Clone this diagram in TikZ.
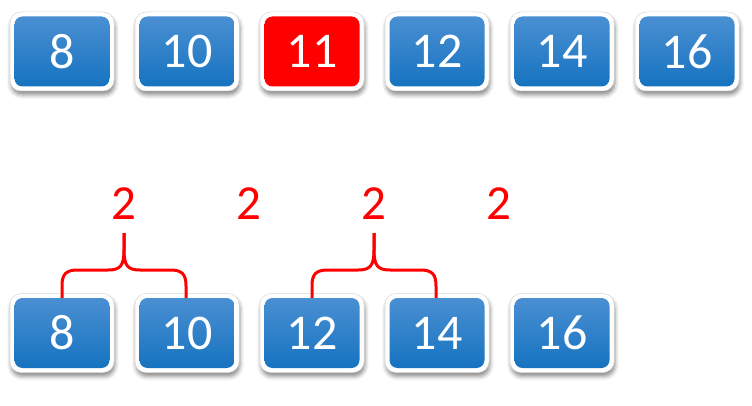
\documentclass[tikz,border=0pt]{standalone}
\usepackage{fontspec}
\setmainfont{Carlito}
\usetikzlibrary{shadows.blur}
\definecolor{tiletop}{HTML}{4A8FD2}
\definecolor{tilebot}{HTML}{1673C0}
\definecolor{hot}{HTML}{FF0000}
\tikzset{
  frame/.style={minimum width=104pt, minimum height=79pt, rounded corners=11pt,
    fill=white, draw=black!15, line width=0.5pt,
    blur shadow={shadow xshift=1pt, shadow yshift=-4pt, shadow blur radius=4pt, shadow opacity=45}},
  tile/.style={minimum width=95pt, minimum height=70pt, rounded corners=8pt,
    top color=tiletop, bottom color=tilebot, text=white,
    font=\fontsize{50}{52}\selectfont, inner sep=0pt},
  hottile/.style={tile, top color=hot, bottom color=hot},
  count/.style={text=hot, font=\fontsize{49}{52}\selectfont, inner sep=0pt},
  brace/.style={draw=hot, line width=3pt, line cap=butt}
}
\begin{document}
\begin{tikzpicture}[x=1pt,y=-1pt]
\useasboundingbox (0,0) rectangle (752,406);
% white frames under the top row
\foreach \x/\n in {62/a,187/b,312/c,437/d,562/e,687/f}{
  \node[frame] (tf\n) at (\x,51.5) {};
}
\node[tile] (ta) at (62,51.5) {8};
\node[tile] (tb) at (187,51.5) {10};
\node[hottile] (tc) at (312,51.5) {11};
\node[tile] (td) at (437,51.5) {12};
\node[tile] (te) at (562,51.5) {14};
\node[tile] (tf) at (687,51.5) {16};
% white frames under the bottom row
\foreach \x/\n in {62/a,187/b,312/c,437/d,562/e}{
  \node[frame] (bf\n) at (\x,333) {};
}
\node[tile] (ba) at (62,333) {8};
\node[tile] (bb) at (187,333) {10};
\node[tile] (bc) at (312,333) {12};
\node[tile] (bd) at (437,333) {14};
\node[tile] (be) at (562,333) {16};
% pair counts
\node[count] (c1) at (124,204) {2};
\node[count] (c2) at (249,204) {2};
\node[count] (c3) at (374,204) {2};
\node[count] (c4) at (499,204) {2};
% braces joining neighbouring tiles
\coordinate (t1) at (124,233);
\coordinate (t2) at (374,233);
\draw[brace] (t1) -- (124,250) .. controls (124,266) and (120,270) .. (108,270)
  -- (78,270) .. controls (66,270) and (62,274) .. (62,286) -- (ba.north -| 62,296);
\draw[brace] (t1) -- (124,250) .. controls (124,266) and (128,270) .. (140,270)
  -- (170,270) .. controls (182,270) and (186,274) .. (186,286) -- (bb.north -| 186,296);
\draw[brace] (t2) -- (374,250) .. controls (374,266) and (370,270) .. (358,270)
  -- (328,270) .. controls (316,270) and (312,274) .. (312,286) -- (bc.north -| 312,296);
\draw[brace] (t2) -- (374,250) .. controls (374,266) and (378,270) .. (390,270)
  -- (420,270) .. controls (432,270) and (436,274) .. (436,286) -- (bd.north -| 436,296);
\end{tikzpicture}
\end{document}
